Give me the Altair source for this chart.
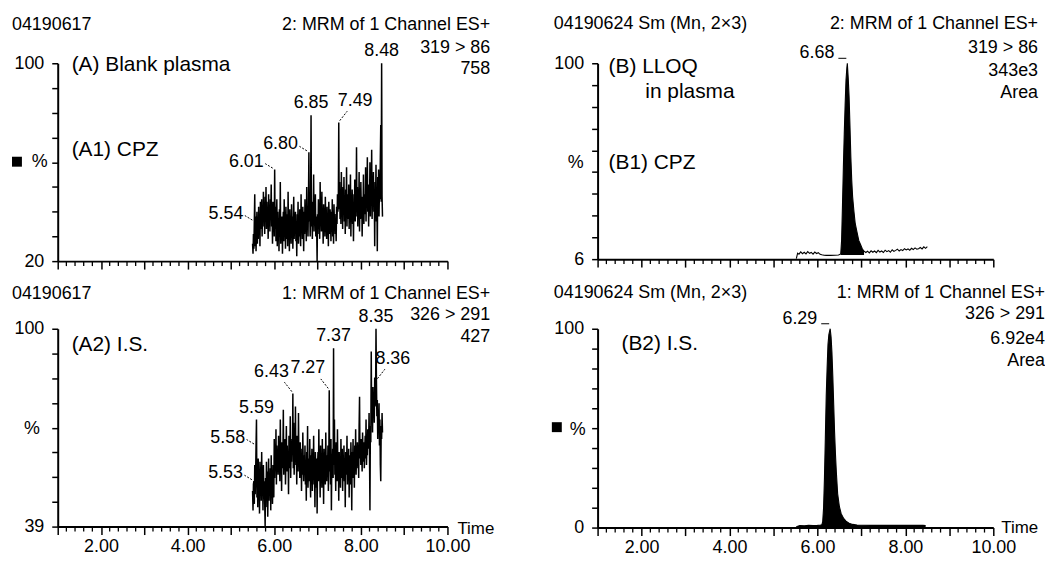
import altair as alt
import pandas as pd

FONT = "Liberation Sans"

# ---------------- axes ----------------
X_DOMAIN = [1.0, 10.0]
X_MAJOR = [1, 2, 3, 4, 5, 6, 7, 8, 9, 10]
X_MINOR = [1.2, 1.4, 1.6, 1.8, 2.2, 2.4, 2.6, 2.8, 3.2, 3.4, 3.6, 3.8,
           4.2, 4.4, 4.6, 4.8, 5.2, 5.4, 5.6, 5.8, 6.2, 6.4, 6.6, 6.8,
           7.2, 7.4, 7.6, 7.8, 8.2, 8.4, 8.6, 8.8, 9.2, 9.4, 9.6, 9.8]

# ---------------- (A1) blank plasma, CPZ channel: % intensity, 5.50 .. 8.50 min, 0.01 min scans
A_START = 5.50
A_STEP = 0.01
A1_V = [
    27, 23, 31, 25, 36, 47, 26, 38, 24, 33,
    40, 27, 35, 29, 42, 31, 38, 26, 44, 33,
    37, 45, 30, 41, 34, 48, 36, 43, 31, 46,
    38, 50, 33, 44, 36, 40, 29, 47, 35, 42,
    32, 45, 38, 51, 34, 41, 27, 44, 36, 39,
    30, 57, 33, 42, 28, 37, 45, 26, 40, 31,
    36, 24, 41, 30, 52, 27, 35, 29, 38, 23,
    34, 40, 28, 45, 31, 37, 25, 42, 33, 29,
    39, 26, 48, 32, 36, 24, 41, 30, 35, 27,
    43, 31, 38, 25, 34, 46, 29, 37, 33, 40,
    28, 36, 22, 39, 31, 44, 27, 35, 30, 41,
    33, 26, 47, 32, 38, 29, 42, 35, 24, 40,
    31, 45, 34, 37, 28, 50, 33, 39, 30, 43,
    64, 36, 41, 30, 46, 79, 34, 40, 29, 44,
    37, 55, 32, 42, 35, 47, 30, 38, 33, 20,
    39, 31, 45, 34, 41, 29, 52, 36, 40, 32,
    48, 33, 38, 27, 43, 35, 40, 30, 46, 34,
    37, 29, 42, 33, 39, 26, 44, 35, 31, 41,
    36, 28, 40, 32, 45, 30, 38, 27, 43, 34,
    39, 31, 36, 28, 42, 35, 47, 40, 44, 76,
    41, 52, 37, 48, 35, 56, 42, 46, 33, 50,
    39, 54, 36, 45, 31, 49, 40, 58, 34, 47,
    43, 37, 51, 33, 46, 40, 55, 30, 44, 38,
    49, 35, 42, 28, 47, 39, 53, 36, 45, 41,
    66, 38, 50, 34, 44, 40, 56, 32, 48, 37,
    52, 41, 46, 30, 43, 38, 55, 35, 47, 42,
    39, 58, 36, 49, 44, 62, 40, 51, 34, 47,
    42, 60, 38, 53, 45, 65, 37, 50, 43, 56,
    40, 48, 26, 52, 44, 59, 36, 47, 24, 54,
    41, 57, 38, 50, 45, 62, 75, 44, 100, 46,
    38,
]

# ---------------- (A2) blank plasma, I.S. channel
A2_V = [
    50, 44, 52, 53, 46, 58, 49, 55, 64, 72,
    48, 57, 45, 60, 51, 54, 43, 59, 50, 56,
    47, 62, 52, 55, 44, 58, 49, 53, 46, 39,
    54, 45, 59, 48, 56, 42, 52, 60, 47, 55,
    50, 57, 44, 61, 49, 53, 46, 58, 51, 48,
    66, 54, 62, 57, 69, 52, 64, 58, 61, 55,
    67, 56, 60, 53, 72, 59, 63, 50, 65, 57,
    61, 75, 55, 63, 58, 66, 52, 60, 70, 56,
    64, 58, 62, 49, 67, 60, 57, 73, 54, 63,
    59, 66, 62, 80, 57, 71, 55, 64, 60, 76,
    58, 63, 52, 67, 61, 56, 74, 59, 62, 54,
    65, 57, 60, 50, 63, 55, 68, 58, 53, 61,
    56, 64, 52, 59, 47, 62, 55, 70, 51, 58,
    60, 53, 66, 55, 48, 61, 57, 63, 50, 59,
    54, 67, 52, 58, 45, 62, 56, 51, 60, 43,
    57, 62, 53, 69, 55, 59, 48, 64, 54, 58,
    51, 66, 56, 60, 46, 63, 55, 59, 52, 68,
    57, 53, 61, 55, 64, 50, 59, 81, 56, 62,
    52, 66, 44, 60, 57, 63, 54, 94, 58, 72,
    55, 61, 50, 65, 57, 53, 69, 56, 60, 47,
    62, 55, 58, 51, 66, 57, 54, 63, 50, 59,
    56, 64, 53, 60, 45, 62, 57, 55, 67, 52,
    59, 54, 63, 48, 61, 56, 52, 65, 58, 44,
    62, 57, 66, 54, 60, 51, 64, 58, 69, 55,
    61, 57, 65, 59, 63, 54, 70, 79, 60, 64,
    58, 66, 61, 56, 68, 62, 59, 65, 57, 63,
    67, 60, 72, 58, 64, 61, 69, 63, 66, 74,
    62, 44, 70, 65, 93, 72, 78, 68, 82, 74,
    80, 71, 85, 76, 79, 100, 84, 73, 78, 66,
    75, 69, 77, 64, 72, 58, 53, 70, 66, 74,
    68,
]

# ---------------- (B1) LLOQ in plasma, CPZ channel
B1_T = [5.52, 5.55, 5.58, 5.62, 5.66, 5.70, 5.74, 5.78, 5.82, 5.86,
        5.90, 5.94, 5.98, 6.02, 6.06, 6.10, 6.15, 6.20, 6.30, 6.40,
        6.48, 6.53, 6.55, 6.57, 6.59, 6.61, 6.63, 6.65, 6.67, 6.68,
        6.70, 6.72, 6.74, 6.76, 6.78, 6.80, 6.83, 6.86, 6.90, 6.94,
        6.98, 7.02, 7.06, 7.10, 7.14, 7.18, 7.22, 7.26, 7.30, 7.34,
        7.38, 7.42, 7.46, 7.50, 7.54, 7.58, 7.62, 7.66, 7.70, 7.74,
        7.78, 7.82, 7.86, 7.90, 7.94, 7.98, 8.02, 8.06, 8.10, 8.14,
        8.18, 8.22, 8.26, 8.30, 8.34, 8.38, 8.42, 8.46, 8.50]
B1_V = [6.3, 8.9, 8.4, 9.5, 8.6, 9.3, 8.5, 9.6, 8.8, 9.2,
        8.4, 9.4, 8.7, 9.1, 8.3, 8.1, 7.9, 7.8, 7.8, 7.9,
        8.0, 8.5, 15, 32, 50, 66, 80, 92, 98, 100,
        93, 84, 70, 55, 44, 36, 29, 23, 19, 15,
        13, 11, 9.8, 9.2, 9.8, 9.0, 10.0, 9.3, 9.9, 9.1,
        10.2, 9.4, 9.9, 9.2, 10.3, 9.6, 10.1, 9.3, 10.5, 9.7,
        10.2, 10.8, 9.9, 10.6, 10.1, 11.0, 10.4, 10.9, 10.3, 11.2,
        10.6, 11.4, 10.8, 11.0, 11.6, 10.9, 11.9, 11.2, 12.0]
B1_PEAK_RANGE = [6.53, 7.06]
B1_FILL_BASE = 8.0

# ---------------- (B2) LLOQ in plasma, I.S. channel
B2_T = [5.52, 5.60, 5.70, 5.80, 5.90, 6.00, 6.06, 6.10, 6.12, 6.14,
        6.16, 6.18, 6.20, 6.22, 6.24, 6.26, 6.28, 6.29, 6.31, 6.33,
        6.35, 6.37, 6.39, 6.41, 6.43, 6.46, 6.50, 6.54, 6.60, 6.65,
        6.72, 6.80, 6.90, 7.00, 7.20, 7.40, 7.60, 7.80, 8.00, 8.20,
        8.40, 8.46]
B2_V = [0.4, 1.0, 0.9, 1.1, 1.0, 1.1, 1.2, 1.4, 3, 10,
        25, 45, 66, 80, 92, 97, 99, 100, 96, 88,
        76, 62, 48, 37, 28, 17, 10.5, 7, 4.5, 3.2,
        2.2, 1.6, 1.3, 1.2, 1.1, 1.2, 1.1, 1.2, 1.1, 1.2,
        1.1, 1.0]

# ---------------- labelled peaks (retention times)
A1_LEFT = [5.54, 6.01, 6.80]
A1_ABOVE = [6.85, 8.48]
A1_UPRIGHT = [7.49]
A2_LEFT = [5.53, 5.58]
A2_ABOVE = [5.59, 7.37, 8.35]
A2_UPLEFT = [6.43, 7.27]
A2_UPRIGHT = [8.36]
B1_PEAK = [6.68]
B2_PEAK = [6.29]

# y-axis ranges (bottom offset, top = 100 %)
A1_YMIN, A2_YMIN, B1_YMIN, B2_YMIN = 20, 39, 6, 0

A_TIME = [round(A_START + A_STEP * i, 2) for i in range(len(A1_V))]

ONE = pd.DataFrame({"k": [0]})


def xenc(show_labels):
    return alt.X(
        "t:Q",
        scale=alt.Scale(domain=X_DOMAIN, nice=False, zero=False),
        axis=alt.Axis(
            values=X_MAJOR, title=None, labels=show_labels,
            labelExpr="datum.value % 2 == 0 ? format(datum.value, '.2f') : ''",
            tickSize=8, labelPadding=3,
        ),
    )


def yenc(ymin, nint):
    ticks = [ymin + k * (100 - ymin) / nint for k in range(nint + 1)]
    return alt.Y(
        "v:Q",
        scale=alt.Scale(domain=[ymin, 100], nice=False, zero=False),
        axis=alt.Axis(
            values=ticks, title=None, tickSize=6, labelPadding=8,
            labelExpr=f"datum.value > 99.9 ? '100' : (datum.value < {ymin} + 0.01 ? '{ymin}' : '')",
        ),
    )


def txt(s, x, y, align="left", size=18):
    return alt.Chart(ONE).mark_text(
        text=s, align=align, baseline="middle", font=FONT, fontSize=size, color="black"
    ).encode(x=alt.value(x), y=alt.value(y))


def square(x, y):
    return alt.Chart(ONE).mark_square(size=100, color="black", opacity=1).encode(
        x=alt.value(x), y=alt.value(y))


KINDS = {
    "left": dict(align="right", dx=-11, dy=-8, path="M-0.2,-0.15L-0.95,-0.6", dash=[2, 1.5]),
    "upleft": dict(align="right", dx=-4, dy=-22, path="M-0.1,-0.2L-0.85,-1.15", dash=[2, 1.5]),
    "upright": dict(align="left", dx=-1, dy=-22, path="M0.1,-0.2L0.85,-1.15", dash=[2, 1.5]),
    "above": dict(align="center", dx=0, dy=-12, path=None, dash=None),
    "dash": dict(align="right", dx=-13, dy=-10, path="M-0.9,-0.5L-0.1,-0.5", dash=None),
}


def peak_marks(X, Y, times, lookup, kind):
    spec = KINDS[kind]
    df = pd.DataFrame({"t": times, "v": [lookup[t] for t in times],
                       "label": [f"{t:.2f}" for t in times]})
    base = alt.Chart(df)
    out = [base.mark_text(align=spec["align"], baseline="middle", dx=spec["dx"], dy=spec["dy"],
                          font=FONT, fontSize=18, color="black").encode(x=X, y=Y, text="label:N")]
    if spec["path"]:
        kw = dict(shape=spec["path"], size=400, filled=False, color="black",
                  strokeWidth=1, opacity=1)
        if spec["dash"]:
            kw["strokeDash"] = spec["dash"]
        out.append(base.mark_point(**kw).encode(x=X, y=Y))
    return out


def minor_ticks(X, H):
    return alt.Chart(pd.DataFrame({"t": X_MINOR})).mark_rule(color="black", strokeWidth=1.3).encode(
        x=X, y=alt.value(H), y2=alt.value(H + 5))


# ---------------- panel A1
W_A, W_B = 392, 398
H_A1, H_A2, H_B1, H_B2 = 199, 199, 197, 200

X1 = xenc(False)
Y1 = yenc(A1_YMIN, 8)
a1_df = pd.DataFrame({"t": A_TIME, "v": A1_V})
a1_lookup = dict(zip(A_TIME, A1_V))
A1 = alt.layer(
    alt.Chart(a1_df).mark_line(color="black", strokeWidth=1.5).encode(x=X1, y=Y1),
    minor_ticks(X1, H_A1),
    *peak_marks(X1, Y1, A1_LEFT, a1_lookup, "left"),
    *peak_marks(X1, Y1, A1_ABOVE, a1_lookup, "above"),
    *peak_marks(X1, Y1, A1_UPRIGHT, a1_lookup, "upright"),
    txt("04190617", -46, -38),
    txt("2: MRM of 1 Channel ES+", 435, -38, "right"),
    txt("319 > 86", 435, -15, "right"),
    txt("758", 435, 6, "right"),
    txt("(A) Blank plasma", 14, 2, size=21),
    txt("(A1) CPZ", 14, 87, size=21),
    square(-41, 99),
    txt("%", -10, 99, "right"),
).properties(width=W_A, height=H_A1)

# ---------------- panel A2
X2 = xenc(True)
Y2 = yenc(A2_YMIN, 8)
a2_df = pd.DataFrame({"t": A_TIME, "v": A2_V})
a2_lookup = dict(zip(A_TIME, A2_V))
A2 = alt.layer(
    alt.Chart(a2_df).mark_line(color="black", strokeWidth=1.5).encode(x=X2, y=Y2),
    minor_ticks(X2, H_A2),
    *peak_marks(X2, Y2, A2_LEFT, a2_lookup, "left"),
    *peak_marks(X2, Y2, A2_ABOVE, a2_lookup, "above"),
    *peak_marks(X2, Y2, A2_UPLEFT, a2_lookup, "upleft"),
    *peak_marks(X2, Y2, A2_UPRIGHT, a2_lookup, "upright"),
    txt("04190617", -46, -35),
    txt("1: MRM of 1 Channel ES+", 435, -35, "right"),
    txt("326 > 291", 435, -14, "right"),
    txt("427", 435, 8, "right"),
    txt("(A2) I.S.", 14, 16, size=21),
    txt("%", -18, 101, "right"),
    txt("Time", 402, 201, size=17),
).properties(width=W_A, height=H_A2)

# ---------------- panel B1
X3 = xenc(False)
Y3 = yenc(B1_YMIN, 9)
b1_df = pd.DataFrame({"t": B1_T, "v": B1_V})
b1_peak_df = b1_df[(b1_df.t >= B1_PEAK_RANGE[0]) & (b1_df.t <= B1_PEAK_RANGE[1])]
b1_lookup = dict(zip(B1_T, B1_V))
B1 = alt.layer(
    alt.Chart(b1_peak_df).mark_area(color="black", opacity=1).encode(
        x=X3, y=Y3, y2=alt.datum(B1_FILL_BASE)),
    alt.Chart(b1_df).mark_line(color="black", strokeWidth=1.1).encode(x=X3, y=Y3),
    minor_ticks(X3, H_B1),
    *peak_marks(X3, Y3, B1_PEAK, b1_lookup, "dash"),
    txt("04190624 Sm (Mn, 2\u00d73)", -44, -39),
    txt("2: MRM of 1 Channel ES+", 443, -39, "right"),
    txt("319 > 86", 443, -15, "right"),
    txt("343e3", 443, 8, "right"),
    txt("Area", 443, 30, "right"),
    txt("(B) LLOQ", 11, 4, size=21),
    txt("in plasma", 48, 29, size=21),
    txt("(B1) CPZ", 11, 100, size=21),
    txt("%", -14, 100, "right"),
).properties(width=W_B, height=H_B1)

# ---------------- panel B2
X4 = xenc(True)
Y4 = yenc(B2_YMIN, 10)
b2_df = pd.DataFrame({"t": B2_T, "v": B2_V})
b2_lookup = dict(zip(B2_T, B2_V))
B2 = alt.layer(
    alt.Chart(b2_df).mark_area(color="black", opacity=1).encode(
        x=X4, y=Y4, y2=alt.datum(B2_YMIN)),
    alt.Chart(b2_df).mark_line(color="black", strokeWidth=1.1).encode(x=X4, y=Y4),
    minor_ticks(X4, H_B2),
    *peak_marks(X4, Y4, B2_PEAK, b2_lookup, "dash"),
    txt("04190624 Sm (Mn, 2\u00d73)", -44, -36),
    txt("1: MRM of 1 Channel ES+", 450, -36, "right"),
    txt("326 > 291", 450, -15, "right"),
    txt("6.92e4", 450, 10, "right"),
    txt("Area", 450, 32, "right"),
    txt("(B2) I.S.", 24, 15, size=21),
    square(-41, 99),
    txt("%", -12, 102, "right"),
    txt("Time", 406, 200, size=17),
).properties(width=W_B, height=H_B2)

chart = alt.concat(
    A1, B1, A2, B2, columns=2,
    spacing={"row": 68, "column": 151}, bounds="flush", align="each",
).properties(
    padding={"left": 4, "top": 6, "right": 0, "bottom": 0},
    background="white",
).configure_view(stroke=None).configure_axis(
    domainColor="black", domainWidth=2, tickColor="black", tickWidth=1.5,
    labelFont=FONT, labelFontSize=18, labelColor="black", grid=False,
    labelFlush=False, labelOverlap=False, labelBound=False,
)

chart.save("out.html", embed_options={"renderer": "svg", "actions": False})
